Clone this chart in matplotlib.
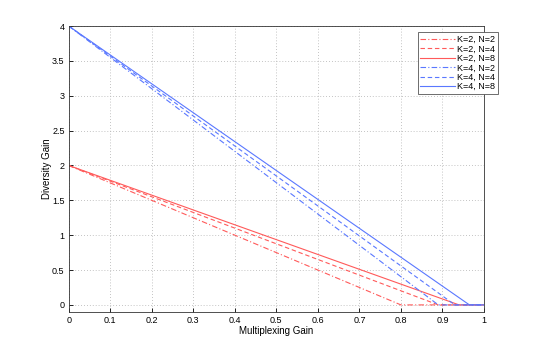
import numpy as np
import matplotlib
matplotlib.use("Agg")
import matplotlib.pyplot as plt

plt.rcParams["font.family"] = ["Liberation Sans", "DejaVu Sans"]

# Data: lines go from (0, K) down to (x_zero, 0), then flat to 1
labels = ["K=2, N=2", "K=2, N=4", "K=2, N=8", "K=4, N=2", "K=4, N=4", "K=4, N=8"]
max_div = [2, 2, 2, 4, 4, 4]
zero_at = [0.80, 0.89, 0.94, 0.89, 0.93, 0.965]
colors = ["#ff5a5a", "#ff5a5a", "#ff5a5a", "#5a78ff", "#5a78ff", "#5a78ff"]
styles = ["-.", "--", "-", "-.", "--", "-"]

fig = plt.figure(figsize=(5.33, 3.52), dpi=100)
ax = fig.add_axes([0.129, 0.114, 0.779, 0.812])

for lab, k, z, c, ls in zip(labels, max_div, zero_at, colors, styles):
    xs = [0, z, 1]
    ys = [k, 0, 0]
    line, = ax.plot(xs, ys, color=c, linewidth=0.8, label=lab)
    if ls == "-.":
        line.set_dashes((5, 2, 1, 2))
    elif ls == "--":
        line.set_dashes((4, 2.5))

ax.set_xlim(0, 1)
ax.set_ylim(-0.1, 4)
ax.set_xticks(np.arange(0, 1.01, 0.1))
ax.set_xticklabels(["0", "0.1", "0.2", "0.3", "0.4", "0.5", "0.6", "0.7", "0.8", "0.9", "1"])
ax.set_yticks(np.arange(0, 4.01, 0.5))
ax.set_yticklabels(["0", "0.5", "1", "1.5", "2", "2.5", "3", "3.5", "4"])
ax.tick_params(direction="in", labelsize=6.5, length=3, width=0.6, pad=3)
ax.grid(True, linestyle=(0, (1, 2.5)), color="#b0b0b0", linewidth=0.6)
for s in ax.spines.values():
    s.set_linewidth(0.6)
    s.set_color("#333333")
ax.set_xlabel("Multiplexing Gain", fontsize=7, labelpad=1)
ax.set_ylabel("Diversity Gain", fontsize=7, labelpad=0)

leg = ax.legend(loc="upper right", bbox_to_anchor=(1.034, 0.978), fontsize=6.5,
                fancybox=False, framealpha=1, edgecolor="#555555",
                handlelength=3.8, borderpad=0.3, labelspacing=0.05, handletextpad=0.3,
                borderaxespad=0)
leg.get_frame().set_linewidth(0.6)

fig.savefig("out.png", dpi=100)
